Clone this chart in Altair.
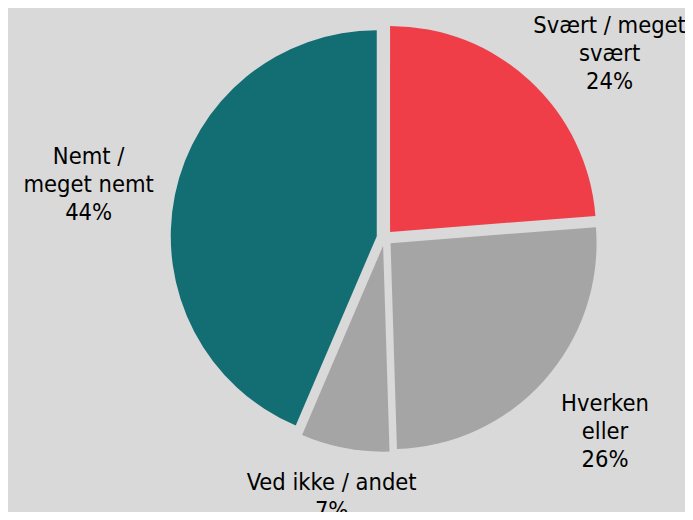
import altair as alt
import pandas as pd

categories = ["Svært / meget svært", "Hverken eller", "Ved ikke / andet", "Nemt / meget nemt"]
values = [24, 26, 7, 44]
labels = ["Svært / meget\nsvært\n24%", "Hverken\neller\n26%", "Ved ikke / andet\n7%", "Nemt /\nmeget nemt\n44%"]
colors = ["#EF3E47", "#A5A5A5", "#A5A5A5", "#136E74"]

W, H = 677, 504
CX, CY = 376.6, 229.8
R = 206
EXPLODE = 8
LABEL_R = 296
LINE_H = 28
label_nudge = {
    "Svært / meget svært": (24, 33),
    "Hverken eller": (0, -3),
    "Ved ikke / andet": (2, -32),
    "Nemt / meget nemt": (-6, 7),
}

df = pd.DataFrame({"category": categories, "value": values, "label": labels, "order": list(range(len(values)))})

base = (
    alt.Chart(df)
    .transform_window(cum="sum(value)", sort=[alt.SortField("order")], frame=[None, 0])
    .transform_joinaggregate(total="sum(value)")
    .transform_calculate(
        a0="2*PI*(datum.cum - datum.value)/datum.total",
        a1="2*PI*datum.cum/datum.total",
    )
    .transform_calculate(mid="(datum.a0 + datum.a1)/2")
    .transform_calculate(
        px=f"{CX} + {EXPLODE}*sin(datum.mid)",
        py=f"{CY} - {EXPLODE}*cos(datum.mid)",
        lx=f"{CX} + {LABEL_R}*sin(datum.mid)",
        ly=f"{CY} - {LABEL_R}*cos(datum.mid)",
    )
)

pie = base.mark_arc(radius=R).encode(
    theta=alt.Theta("a0:Q", scale=None),
    theta2="a1:Q",
    x=alt.X("px:Q", scale=None, axis=None),
    y=alt.Y("py:Q", scale=None, axis=None),
    color=alt.Color("category:N", scale=alt.Scale(domain=categories, range=colors), legend=None),
)

layers = [pie]
for cat, lab in zip(categories, labels):
    dx, dy = label_nudge[cat]
    n_lines = lab.count("\n") + 1
    layers.append(
        base.transform_filter(alt.datum.category == cat)
        .mark_text(
            font="DejaVu Sans Condensed",
            fontSize=23.5,
            lineBreak="\n",
            lineHeight=LINE_H,
            align="center",
            baseline="middle",
            color="#000000",
            dx=dx,
            dy=dy - (n_lines - 1) * LINE_H / 2,
        )
        .encode(
            x=alt.X("lx:Q", scale=None, axis=None),
            y=alt.Y("ly:Q", scale=None, axis=None),
            text="label:N",
        )
    )

chart = (
    alt.layer(*layers)
    .properties(width=W, height=H, background="#D9D9D9", padding=0, autosize="none")
    .configure_view(stroke=None)
)

chart.save("out.html", embed_options={"renderer": "svg", "actions": False})
